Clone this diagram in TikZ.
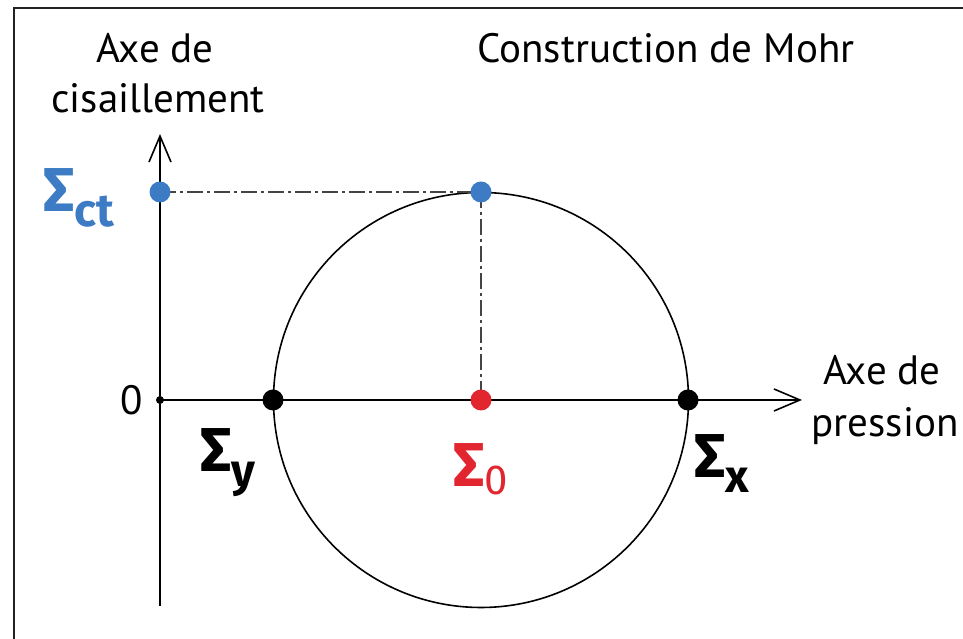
\documentclass[tikz,border=0pt]{standalone}
\usepackage{fontspec}
\setmainfont{PT Sans}
\newfontfamily\sigfont{Fira Sans}
\usetikzlibrary{arrows.meta}
\definecolor{mhBlue}{HTML}{3D7CC4}
\definecolor{mhRed}{HTML}{E2262F}
\definecolor{mhInk}{HTML}{222222}
\definecolor{mhGrey}{HTML}{444444}
\newcommand{\textSigma}{Σ}
\newcommand{\sig}[1]{{\sigfont\bfseries\fontsize{62bp}{62bp}\selectfont\textSigma\raisebox{-15bp}{\fontsize{46bp}{46bp}\selectfont #1}}}

\begin{document}
\begin{tikzpicture}[
    x=1bp, y=1bp,
    ax/.style={line width=1.6pt, draw=black, -{Straight Barb[length=26bp, width=22bp, line width=1.6pt]}},
    lbl/.style={anchor=base, inner sep=0pt, font=\fontsize{41bp}{50bp}\selectfont, align=center},
    dot/.style={circle, fill=black, inner sep=0pt, minimum size=21bp},
    proj/.style={mhGrey, line width=1.2pt, dash pattern=on 16bp off 4bp on 3bp off 4bp},
    sg/.style={anchor=base west, inner sep=0pt},
  ]
  \useasboundingbox (0,0) rectangle (963,639);
  % frame (top and left edges only)
  \draw[mhInk, line width=2bp] (14,0) -- (14,631) -- (963,631);

  % axes
  \coordinate (o) at (160,239);
  \coordinate (vb) at (160,33);
  \coordinate (vt) at (160,505);
  \coordinate (ht) at (802,239);
  \draw[line width=1.6pt] (o) -- (vb);
  \draw[ax] (o) -- (vt);
  \draw[ax] (o) -- (ht);
  \node[circle, fill=black, inner sep=0pt, minimum size=8bp] (o0) at (o) {};
  \node[lbl, anchor=east] (zero) at (143,239) {0};

  % Mohr circle
  \coordinate (c) at (481,239);
  \draw[line width=1.6pt] (c) circle[radius=207.5];

  % projections of the top point
  \coordinate (t) at (481,447);
  \coordinate (tc) at (160,447);
  \draw[proj] (tc) -- (t);
  \draw[proj] (t) -- (c);

  \node[dot] (sy) at (273,239) {};
  \node[dot] (sx) at (688,239) {};
  \node[dot, fill=mhRed] (s0) at (c) {};
  \node[dot, fill=mhBlue] (top) at (t) {};
  \node[dot, fill=mhBlue] (ct) at (tc) {};

  % labels
  \node[sg] (lsy) at (200,167) {\sig{y}};
  \node[sg] (lsx) at (694,161) {\sig{x}};
  \node[sg, text=mhRed] (ls0) at (453,152) {{\sigfont\fontsize{62bp}{62bp}\selectfont{\bfseries\textSigma}\raisebox{-8bp}{\fontsize{42bp}{42bp}\selectfont\mdseries 0}}};
  \node[sg, text=mhBlue] (lct) at (43,427) {\sig{ct}};

  \node[lbl] (title) at (666,576) {Construction de Mohr};
  \node[lbl] (cis1) at (155,576) {Axe de};
  \node[lbl] (cis2) at (158,526) {cisaillement};
  \node[lbl] (pr1) at (882,254) {Axe de};
  \node[lbl] (pr2) at (885,202) {pression};
\end{tikzpicture}
\end{document}
